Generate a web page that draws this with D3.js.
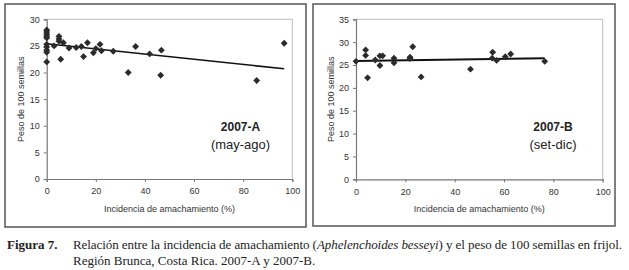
<!DOCTYPE html>
<html>
<head>
<meta charset="utf-8">
<script src="https://cdn.jsdelivr.net/npm/d3@7"></script>
<style>
  html, body { margin: 0; padding: 0; background: #fff; }
  svg { display: block; }
</style>
</head>
<body>
<svg id="chart" width="629" height="270"></svg>
<script>
// ---- Data ----
const incidenceA = [0,0,0,0,0,0,0,0,0,0, 3,5,5,5,5.7,6.8,9.1,12,14.1,15,16.6,19,20,21.7,22.3,27.1,33.2,36.2,41.9,46.7,46.4,85.5,96.7];
const weightA    = [28.0,27.6,27.2,26.8,26.5,25.3,24.8,24.2,23.8,22.0, 25.0,26.8,26.3,25.9,22.5,25.6,24.6,24.7,24.9,23.0,25.6,23.7,24.5,25.3,24.1,24.0,20.0,24.9,23.5,24.2,19.5,18.5,25.5];
const trendAx = [0, 96.7];
const trendAy = [25.4, 20.7];

const incidenceB = [0,3.9,3.9,4.7,7.8,9.7,9.7,10.8,15.4,15.4,21.9,21.9,23,26.4,46.4,55.4,55.2,57,60.5,62.7,76.5];
const weightB    = [25.8,28.3,27.1,22.2,26.1,24.9,27.0,27.0,26.5,25.5,26.7,26.4,29.0,22.4,24.1,27.8,26.5,26.0,26.8,27.4,25.8];
const trendBx = [0, 76.5];
const trendBy = [25.9, 26.5];

const xTicks = [0, 20, 40, 60, 80, 100];
const yTicksA = [0, 5, 10, 15, 20, 25, 30];
const yTicksB = [0, 5, 10, 15, 20, 25, 30, 35];

const xTitle = "Incidencia de amachamiento (%)";
const yTitle = "Peso de 100 semillas";

const svg = d3.select("#chart");

function panel(cfg) {
  const g = svg.append("g");
  g.append("rect")
    .attr("x", cfg.frame[0]).attr("y", cfg.frame[1])
    .attr("width", cfg.frame[2]).attr("height", cfg.frame[3])
    .attr("fill", "#fff").attr("stroke", "#555").attr("stroke-width", 1.5);

  const x = d3.scaleLinear().domain([0, 100]).range([cfg.x0, cfg.x1]);
  const y = d3.scaleLinear().domain([0, cfg.ymax]).range([cfg.y0, cfg.y1]);

  g.append("path")
    .attr("d", `M${cfg.x0},${cfg.y1}H${cfg.x1}V${cfg.y0}`)
    .attr("fill", "none").attr("stroke", "#bbb").attr("stroke-width", 1);

  const xAxis = g.append("g").attr("transform", `translate(0,${cfg.y0})`)
    .call(d3.axisBottom(x).tickValues(xTicks).tickSize(3).tickPadding(6).tickFormat(d3.format("d")));
  const yAxis = g.append("g").attr("transform", `translate(${cfg.x0},0)`)
    .call(d3.axisLeft(y).tickValues(cfg.yTicks).tickSize(3).tickPadding(4).tickFormat(d3.format("d")));
  [xAxis, yAxis].forEach(a => {
    a.select(".domain").attr("stroke", "#777").attr("stroke-width", 1.2);
    a.selectAll(".tick line").attr("stroke", "#777");
    a.selectAll(".tick text").attr("fill", "#333")
      .attr("font-family", "Liberation Sans, Arial, sans-serif").attr("font-size", 9);
  });

  g.append("text")
    .attr("x", (cfg.x0 + cfg.x1) / 2).attr("y", 211.5)
    .attr("text-anchor", "middle")
    .attr("font-family", "Liberation Sans, Arial, sans-serif").attr("font-size", 9)
    .attr("fill", "#333").text(xTitle);
  g.append("text")
    .attr("transform", `translate(${cfg.ytx},${(cfg.y0 + cfg.y1) / 2}) rotate(-90)`)
    .attr("text-anchor", "middle")
    .attr("font-family", "Liberation Sans, Arial, sans-serif").attr("font-size", 9)
    .attr("fill", "#333").text(yTitle);

  const line = d3.line().x(d => x(d[0])).y(d => y(d[1]));
  g.append("path")
    .datum(cfg.tx.map((v, i) => [v, cfg.ty[i]]))
    .attr("d", line)
    .attr("fill", "none").attr("stroke", "#111").attr("stroke-width", cfg.lw);

  const sym = d3.symbol().type(d3.symbolDiamond2).size(30);
  g.selectAll("path.pt")
    .data(cfg.xs.map((v, i) => [v, cfg.ys[i]]))
    .join("path").attr("class", "pt")
    .attr("transform", d => `translate(${x(d[0])},${y(d[1])})`)
    .attr("d", sym)
    .attr("fill", "#2b2b2b");

  g.append("text")
    .attr("x", cfg.lx).attr("y", 130.5)
    .attr("text-anchor", "middle")
    .attr("font-family", "Liberation Sans, Arial, sans-serif").attr("font-size", 12)
    .attr("font-weight", "bold").attr("fill", "#222").text(cfg.l1);
  g.append("text")
    .attr("x", cfg.lx).attr("y", 149)
    .attr("text-anchor", "middle")
    .attr("font-family", "Liberation Sans, Arial, sans-serif").attr("font-size", 13)
    .attr("fill", "#222").text(cfg.l2);
}

panel({
  frame: [5, 4, 301, 223],
  x0: 46.7, x1: 292.3, y0: 179, y1: 19.3, ymax: 30, yTicks: yTicksA,
  ytx: 24, xs: incidenceA, ys: weightA, tx: trendAx, ty: trendAy, lw: 1.5,
  lx: 240.5, l1: "2007-A", l2: "(may-ago)"
});
panel({
  frame: [313, 4, 302, 222],
  x0: 356, x1: 602.7, y0: 179.3, y1: 19.3, ymax: 35, yTicks: yTicksB,
  ytx: 334, xs: incidenceB, ys: weightB, tx: trendBx, ty: trendBy, lw: 2,
  lx: 553, l1: "2007-B", l2: "(set-dic)"
});

const cap = svg.append("g").attr("font-family", "Liberation Serif, Times New Roman, serif")
  .attr("font-size", 13).attr("fill", "#222");
cap.append("text").attr("x", 7).attr("y", 249).attr("font-weight", "bold").text("Figura 7.");
const l1 = cap.append("text").attr("x", 73).attr("y", 249)
  .attr("textLength", 549).attr("lengthAdjust", "spacing");
l1.append("tspan").text("Relación entre la incidencia de amachamiento (");
l1.append("tspan").attr("font-style", "italic").text("Aphelenchoides besseyi");
l1.append("tspan").text(") y el peso de 100 semillas en frijol.");
cap.append("text").attr("x", 73).attr("y", 265).text("Región Brunca, Costa Rica. 2007-A y 2007-B.");
</script>
</body>
</html>
